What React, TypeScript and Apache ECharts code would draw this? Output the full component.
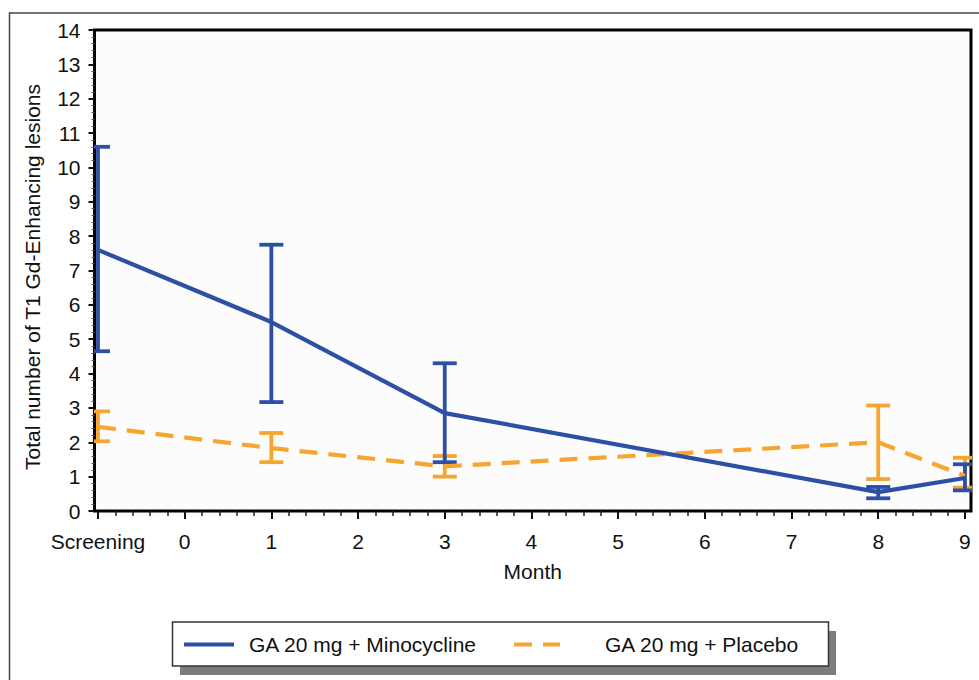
import React, { useEffect, useRef } from "react";
import * as echarts from "echarts";

// ---- data ----
const months = [-1, 1, 3, 8, 9]; // -1 = Screening
const xTickValues = [-1, 0, 1, 2, 3, 4, 5, 6, 7, 8, 9];
const xTickLabels = ["Screening", "0", "1", "2", "3", "4", "5", "6", "7", "8", "9"];

const minoName = "GA 20 mg + Minocycline";
const minoMean = [7.6, 5.5, 2.85, 0.55, 0.96];
const minoLow = [4.65, 3.17, 1.42, 0.37, 0.6];
const minoHigh = [10.6, 7.75, 4.3, 0.7, 1.36];

const placName = "GA 20 mg + Placebo";
const placMean = [2.45, 1.83, 1.3, 2.0, 1.02];
const placLow = [2.03, 1.42, 1.0, 0.93, 0.68];
const placHigh = [2.9, 2.27, 1.6, 3.07, 1.55];

const BLUE = "#2d4fa5";
const ORANGE = "#f6a630";
const FONT = "Liberation Sans, Arial, Helvetica, sans-serif";
const FS = 21;

function errorSeries(name: string, low: number[], high: number[], color: string) {
  return {
    type: "custom",
    name: name + " error",
    xAxisIndex: 0,
    yAxisIndex: 0,
    clip: true,
    silent: true,
    encode: { x: 0, y: [1, 2] },
    data: months.map((m, i) => [m, low[i], high[i]]),
    renderItem: (params: any, api: any) => {
      const x = api.value(0);
      const pHi = api.coord([x, api.value(2)]);
      const pLo = api.coord([x, api.value(1)]);
      const hw = 12;
      const style = { stroke: color, lineWidth: 3.8, fill: "none" };
      return {
        type: "group",
        children: [
          { type: "line", shape: { x1: pHi[0], y1: pHi[1], x2: pLo[0], y2: pLo[1] }, style },
          { type: "line", shape: { x1: pHi[0] - hw, y1: pHi[1], x2: pHi[0] + hw, y2: pHi[1] }, style },
          { type: "line", shape: { x1: pLo[0] - hw, y1: pLo[1], x2: pLo[0] + hw, y2: pLo[1] }, style },
        ],
      };
    },
  };
}

export default function App() {
  const ref = useRef<HTMLDivElement>(null);
  useEffect(() => {
    if (!ref.current) return;
    const chart = echarts.init(ref.current, null, { renderer: "svg" });
    const xMin = -1.04;
    const xMax = 9.07;
    const minorTicks: number[] = [];
    for (let i = 0; i < xTickValues.length - 1; i++) {
      for (let k = 1; k < 5; k++) minorTicks.push(xTickValues[i] + k * 0.2);
    }
    const tickLine = { color: "#111", width: 2 };
    const legendCommon = {
      top: 634,
      padding: 0,
      itemHeight: 20,
      z: 10,
      itemStyle: { opacity: 0 },
      lineStyle: { width: 4 },
    };
    chart.setOption({
      animation: false,
      backgroundColor: "#ffffff",
      textStyle: { fontFamily: FONT },
      grid: {
        left: 94.5,
        right: 8,
        top: 30,
        bottom: 169,
        show: true,
        borderColor: "#000",
        borderWidth: 3,
        backgroundColor: "#fcfcfd",
        z: 0,
      },
      xAxis: [
        {
          type: "value",
          min: xMin,
          max: xMax,
          position: "bottom",
          axisLine: { show: false, onZero: false },
          splitLine: { show: false },
          axisTick: { show: true, customValues: xTickValues, length: 8, lineStyle: tickLine },
          axisLabel: {
            customValues: xTickValues,
            formatter: (v: number) => xTickLabels[xTickValues.indexOf(Math.round(v))] ?? "",
            margin: 20,
            fontSize: FS,
            color: "#111",
            fontFamily: FONT,
          },
          name: "Month",
          nameLocation: "middle",
          nameGap: 50,
          nameTextStyle: { fontSize: FS, color: "#111", fontFamily: FONT },
        },
        {
          type: "value",
          min: xMin,
          max: xMax,
          position: "bottom",
          axisLine: { show: false, onZero: false },
          splitLine: { show: false },
          axisLabel: { show: false },
          axisTick: { show: true, customValues: minorTicks, length: 5, lineStyle: { color: "#222", width: 1.5 } },
        },
      ],
      yAxis: {
        type: "value",
        min: 0,
        max: 14,
        interval: 1,
        axisLine: { show: false, onZero: false },
        splitLine: { show: false },
        axisTick: { show: true, length: 6, lineStyle: tickLine },
        minorTick: { show: true, splitNumber: 5, length: 3, lineStyle: { color: "#555", width: 1 } },
        axisLabel: { margin: 14, fontSize: FS, color: "#111", fontFamily: FONT },
        name: "Total number of T1 Gd-Enhancing lesions",
        nameLocation: "middle",
        nameGap: 52,
        nameTextStyle: { fontSize: FS, color: "#111", fontFamily: FONT, padding: [0, 13, 0, 0] },
      },
      legend: [
        {
          ...legendCommon,
          data: [minoName],
          left: 182,
          itemWidth: 50,
          textStyle: { fontSize: FS, color: "#111", fontFamily: FONT, padding: [0, 0, 0, 10] },
        },
        {
          ...legendCommon,
          data: [placName],
          left: 512,
          itemWidth: 46,
          textStyle: { fontSize: FS, color: "#111", fontFamily: FONT, padding: [0, 0, 0, 40] },
        },
      ],
      graphic: [
        {
          type: "rect",
          z: 0,
          shape: { x: 9.5, y: 13, width: 1100, height: 1100 },
          style: { fill: "none", stroke: "#3b4848", lineWidth: 1.5 },
          silent: true,
        },
        {
          type: "rect",
          z: 1,
          shape: { x: 180, y: 631, width: 656, height: 44 },
          style: { fill: "#7c7c7c" },
          silent: true,
        },
        {
          type: "rect",
          z: 2,
          shape: { x: 172.5, y: 622, width: 656, height: 44 },
          style: { fill: "#ffffff", stroke: "#2f3838", lineWidth: 1.5 },
          silent: true,
        },
      ],
      series: [
        errorSeries(placName, placLow, placHigh, ORANGE),
        errorSeries(minoName, minoLow, minoHigh, BLUE),
        {
          type: "line",
          name: placName,
          data: months.map((m, i) => [m, placMean[i]]),
          symbol: "none",
          lineStyle: { color: ORANGE, width: 4.2, type: [18, 11] },
          itemStyle: { color: ORANGE },
          z: 3,
        },
        {
          type: "line",
          name: minoName,
          data: months.map((m, i) => [m, minoMean[i]]),
          symbol: "none",
          lineStyle: { color: BLUE, width: 4.2 },
          itemStyle: { color: BLUE },
          z: 4,
        },
      ],
    });
    return () => chart.dispose();
  }, []);
  return (
    <div
      ref={ref}
      style={{ position: "fixed", left: 0, top: 0, width: 979, height: 680, background: "#fff" }}
    />
  );
}
